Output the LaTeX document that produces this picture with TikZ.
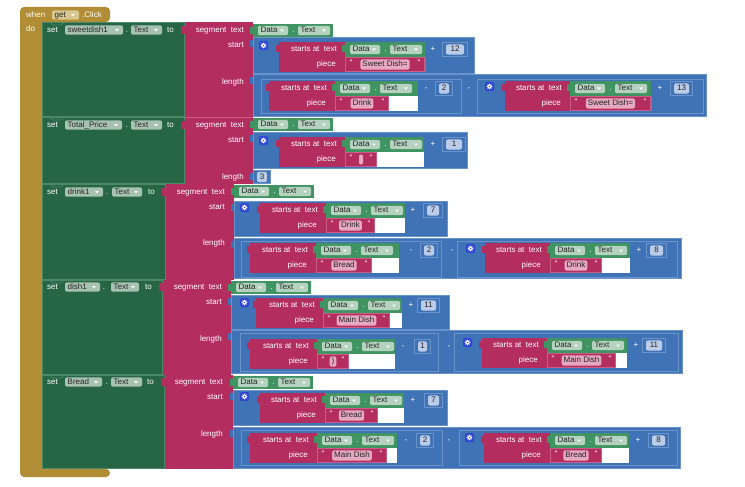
\documentclass[tikz,border=0pt]{standalone}
\usepackage{fontspec}
\newfontfamily\blkfont{Liberation Sans}
\definecolor{evgold}{HTML}{B18E35}
\definecolor{evpill}{HTML}{D8C58F}
\definecolor{setgreen}{HTML}{266645}
\definecolor{setedge}{HTML}{4E8766}
\definecolor{setpill}{HTML}{A8C2B1}
\definecolor{getgreen}{HTML}{3F9462}
\definecolor{getpill}{HTML}{B4D2BE}
\definecolor{txtpink}{HTML}{B32D5E}
\definecolor{pinkedge}{HTML}{CB5C86}
\definecolor{pinkpill}{HTML}{E6A9C0}
\definecolor{mblue}{HTML}{4072B6}
\definecolor{blueedge}{HTML}{6A93CC}
\definecolor{bluepill}{HTML}{BACCE8}
\definecolor{gearblue}{HTML}{2F47D2}
\newcounter{nd}
\tikzset{
  wlbl/.style={text=white, font=\blkfont\fontsize{8}{9}\selectfont, inner sep=0pt, text height=5.8pt, text depth=1.6pt},
  plbl/.style={text=black!85, font=\blkfont\fontsize{8}{9}\selectfont, inner sep=0pt, text height=5.8pt, text depth=1.6pt},
}
% white label: [anchor]{x}{y}{text}
\newcommand\wl[4][west]{\stepcounter{nd}\node[wlbl,anchor=#1] (w\thend) at (#2,#3) {#4};}
% dropdown field: {x1}{x2}{y}{text}{fill}
\newcommand\ddp[5]{%
  \fill[#5,rounded corners=2pt] (#1,#3-4.7) rectangle (#2,#3+4.7);
  \stepcounter{nd}\node[plbl,anchor=west] (p\thend) at (#1+2.5,#3) {#4};
  \fill[white!92!gray] (#2-8,#3-1) -- (#2-4,#3-1) -- (#2-6,#3+1.5) -- cycle;}
% component getter Data.Text: {x}{y}{w}{h}
\newcommand\getter[4]{%
  \fill[getgreen] (#1,#2) rectangle (#1+#3,#2+#4);
  \fill[getgreen] (#1-3,#2+3) rectangle (#1,#2+10);
  \ddp{#1+5}{#1+35}{#2+#4/2}{Data}{getpill}
  \wl[center]{#1+40.5}{#2+#4/2}{.}
  \ddp{#1+45}{#1+77}{#2+#4/2}{Text}{getpill}}
% text literal: {x}{y}{w}{text}
\newcommand\piece[4]{%
  \fill[txtpink] (#1,#2) rectangle (#1+#3,#2+15);
  \draw[pinkedge,line width=.6pt] (#1+.3,#2+.3) rectangle (#1+#3-.3,#2+14.7);
  \wl[center]{#1+6}{#2+6}{"}
  \wl[center]{#1+#3-6}{#2+6}{"}
  \stepcounter{nd}\node[plbl,fill=pinkpill,rounded corners=2pt,inner xsep=2pt,inner ysep=1.4pt] (t\thend) at (#1+#3/2,#2+7.5) {#4};}
% number literal: {x}{y}{w}{h}{text}
\newcommand\numb[5]{%
  \fill[mblue] (#1-3,#2+3) rectangle (#1,#2+10);
  \fill[mblue] (#1,#2) rectangle (#1+#3,#2+#4);
  \draw[blueedge,line width=.6pt] (#1+.3,#2+.3) rectangle (#1+#3-.3,#2+#4-.3);
  \stepcounter{nd}\node[plbl,fill=bluepill,rounded corners=2pt,minimum width=#3-8,inner ysep=1.4pt] (m\thend) at (#1+#3/2,#2+#4/2) {#5};}
% math block and nested frame
\newcommand\mblk[4]{%
  \fill[mblue] (#1-3,#2+3) rectangle (#1,#2+10);
  \fill[mblue] (#1,#2) rectangle (#3,#4);
  \draw[blueedge,line width=.5pt] (#1+.3,#2+.3) rectangle (#3-.3,#4-.3);}
\newcommand\mframe[4]{%
  \fill[mblue] (#1-3,#2+3) rectangle (#1,#2+10);
  \draw[blueedge,line width=.7pt] (#1,#2) rectangle (#3,#4);}
\newcommand\gear[2]{%
  \fill[gearblue,rounded corners=1.5pt] (#1,#2) rectangle (#1+9,#2+9);
  \draw[white,line width=1.1pt] (#1+4.5,#2+4.5) circle (1.9);
  \foreach \a in {0,45,...,315} \fill[white] (#1+4.5,#2+4.5) ++(\a:2.3) circle (0.6);}
% starts at block: {x}{y}{label width}{data width}{piece width}{piece text}
\newcommand\sa[6]{%
  \fill[txtpink] (#1-3,#2+3) rectangle (#1,#2+10);
  \fill[txtpink] (#1,#2) rectangle (#1+#3,#2+30);
  \wl[east]{#1+#3-8}{#2+7.5}{starts at\ \ text}
  \wl[east]{#1+#3-9}{#2+22.5}{piece}
  \getter{#1+#3}{#2}{#4}{15}
  \fill[white] (#1+#3+#5,#2+15) rectangle (#1+#3+#4,#2+30);
  \piece{#1+#3}{#2+15}{#5}{#6}}
% set statement: {y1}{y2}{xr}{label y}{name}{name x2}{dot x}{Text x1}{Text x2}{to x}
\newcommand\setblk[9]{%
  \fill[setgreen] (42,#1) rectangle (#3,#2);
  \draw[setedge,line width=.6pt] (42.3,#1+.3) rectangle (#3-.3,#2-.3);
  \draw[setedge,line width=.6pt] (50,#1+.3) -- (53,#1+3) -- (61,#1+3) -- (64,#1+.3);
  \wl{47}{#4}{set}
  \ddp{65}{#6}{#4}{#5}{setpill}
  \wl[center]{#7}{#4}{.}
  \ddp{#8}{#9}{#4}{Text}{setpill}}

\begin{document}
\begin{tikzpicture}[x=1pt,y=-1pt]
\useasboundingbox (0,0) rectangle (745,487);
\fill[white] (0,0) rectangle (745,487);

% event handler frame
\fill[evgold,rounded corners=4pt] (20,7) -- (110,7) -- (110,22) -- (42,22) -- (42,469) -- (110,469) -- (110,477) -- (20,477) -- cycle;
\wl{26}{15}{when}
\ddp{52}{79}{15}{get}{evpill}
\wl{82}{15}{.Click}
\wl{26}{29}{do}

% set statements
\setblk{22}{117}{185}{30}{sweetdish1}{123}{127}{131}{162}\wl{167}{30}{to}
\setblk{117}{184}{185}{125}{Total\_Price}{122}{127}{131}{162}\wl{167}{125}{to}
\setblk{184}{280}{166}{192}{drink1}{103}{107}{112}{142}\wl{148}{192}{to}
\setblk{280}{375}{163}{287}{dish1}{100}{104}{111}{139}\wl{145}{287}{to}
\setblk{375}{469}{165}{382}{Bread}{102}{107}{111}{142}\wl{147}{382}{to}

% segment blocks
\fill[txtpink] (181,26) rectangle (185,34);
\fill[txtpink] (185,22) rectangle (253,117);
\wl[east]{244}{30}{segment\ \ text}\wl[east]{244}{45}{start}\wl[east]{244}{82}{length}
\fill[txtpink] (181,121) rectangle (185,129);
\fill[txtpink] (185,117) rectangle (253,184);
\draw[pinkedge,line width=.5pt] (185,117.3) -- (253,117.3);
\wl[east]{244}{125}{segment\ \ text}\wl[east]{244}{140}{start}\wl[east]{244}{177}{length}
\fill[txtpink] (162,188) rectangle (166,196);
\fill[txtpink] (166,184) rectangle (234,280);
\wl[east]{225}{192}{segment\ \ text}\wl[east]{225}{207}{start}\wl[east]{225}{243}{length}
\fill[txtpink] (159,283) rectangle (163,291);
\fill[txtpink] (163,280) rectangle (231,375);
\wl[east]{222}{287}{segment\ \ text}\wl[east]{222}{302}{start}\wl[east]{222}{339}{length}
\fill[txtpink] (161,378) rectangle (165,386);
\fill[txtpink] (165,375) rectangle (233,469);
\wl[east]{223}{382}{segment\ \ text}\wl[east]{223}{397}{start}\wl[east]{223}{434}{length}

% text inputs
\getter{253}{24}{80}{13}
\getter{253}{118}{80}{13}
\getter{234}{185}{80}{13}
\getter{231}{281}{80}{13}
\getter{233}{376}{80}{13}

% sweetdish1: start and length
\mblk{253}{37}{475}{74}
\gear{259}{41}
\sa{279}{42}{66}{80}{80}{Sweet Dish=}
\wl[center]{433}{49.5}{+}
\numb{442}{42}{26}{15}{12}
\mblk{253}{74}{707}{117}
\mframe{261}{79}{461}{113}
\sa{269}{81}{66}{83}{54}{Drink}
\wl[center]{426}{88.5}{-}
\numb{435}{81}{18}{15}{2}
\wl[center]{469}{88.5}{-}
\mframe{477}{79}{703}{113}
\gear{485}{82}
\sa{505}{81}{65}{81}{81}{Sweet Dish=}
\wl[center]{660}{88.5}{+}
\numb{670}{81}{23}{15}{13}

% Total_Price: start and length
\mblk{253}{132}{468}{169}
\gear{259}{136}
\sa{279}{137}{66}{79}{32}{\hspace{4pt}}
\wl[center]{433}{144.5}{+}
\numb{442}{137}{24}{15}{1}
\numb{253}{170}{18}{14}{3}

% drink1: start and length
\mblk{234}{201}{448}{237}
\gear{240}{203}
\sa{260}{203}{66}{79}{49}{Drink}
\wl[center]{413}{210.5}{+}
\numb{423}{203}{20}{15}{7}
\mblk{234}{238}{682}{279}
\mframe{241}{241}{441}{277}
\sa{250}{243}{66}{83}{56}{Bread}
\wl[center]{411}{250.5}{-}
\numb{420}{243}{18}{15}{2}
\wl[center]{452}{250.5}{-}
\mframe{457}{241}{677}{277}
\gear{466}{244}
\sa{485}{243}{65}{80}{52}{Drink}
\wl[center]{639}{250.5}{+}
\numb{646}{243}{21}{15}{8}

% dish1: start and length
\mblk{231}{295}{450}{330}
\gear{240}{298}
\sa{256}{298}{67}{79}{67}{Main Dish}
\wl[center]{411}{305.5}{+}
\numb{417}{298}{23}{15}{11}
\mblk{231}{330}{683}{374}
\mframe{240}{333}{438}{371}
\sa{250}{339}{67}{78}{32}{)}
\wl[center]{403}{346.5}{-}
\numb{414}{339}{17}{15}{1}
\wl[center]{449}{346.5}{-}
\mframe{454}{333}{678}{371}
\gear{463}{338}
\sa{482}{338}{65}{80}{69}{Main Dish}
\wl[center]{636}{345.5}{+}
\numb{642}{338}{24}{15}{11}

% Bread: start and length
\mblk{233}{390}{448}{426}
\gear{240}{392}
\sa{260}{393}{65}{79}{53}{Bread}
\wl[center]{413}{400.5}{+}
\numb{424}{393}{19}{15}{7}
\mblk{233}{427}{681}{469}
\mframe{241}{430}{442}{465}
\sa{250}{433}{67}{80}{70}{Main Dish}
\wl[center]{406}{440.5}{-}
\numb{416}{433}{18}{15}{2}
\wl[center]{449}{440.5}{-}
\mframe{459}{430}{677}{465}
\gear{465}{433}
\sa{484}{433}{66}{79}{52}{Bread}
\wl[center]{638}{440.5}{+}
\numb{648}{433}{21}{15}{8}
\end{tikzpicture}
\end{document}
